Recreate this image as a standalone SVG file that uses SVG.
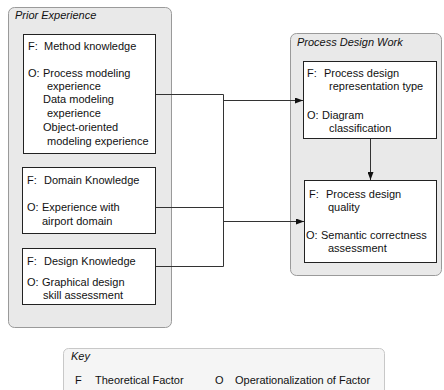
<svg xmlns="http://www.w3.org/2000/svg" width="444" height="390" viewBox="0 0 444 390">
  <defs>
    <marker id="arrow" markerWidth="8" markerHeight="6" refX="8" refY="3" orient="auto" markerUnits="userSpaceOnUse">
      <path d="M0,0 L8,3 L0,6 Z" fill="#111"/>
    </marker>
    <style>
      text { font-family: "Liberation Sans", Arial, sans-serif; font-size: 11px; fill: #111; }
      .title { font-style: italic; }
      .panel { fill: #e9e9e9; stroke: #9a9a9a; stroke-width: 1; }
      .key { fill: #f5f5f5; stroke: #c8c8c8; stroke-width: 1; }
      .box { fill: #ffffff; stroke: #222; stroke-width: 1; }
      .conn { fill: none; stroke: #333; stroke-width: 1; }
    </style>
  </defs>

  <rect width="444" height="390" fill="#ffffff"/>

  <!-- Container panels -->
  <g id="prior-experience">
    <rect class="panel" x="8.5" y="7.5" width="163" height="320" rx="6"/>
    <text class="title" x="15" y="19">Prior Experience</text>
  </g>
  <g id="process-design-work">
    <rect class="panel" x="290.5" y="33.5" width="151" height="242" rx="6"/>
    <text class="title" x="297" y="46">Process Design Work</text>
  </g>

  <!-- Connectors -->
  <g id="connectors">
    <path class="conn" d="M156,94.5 H223.5 V266.5 H156"/>
    <path class="conn" d="M156,207.5 H223.5"/>
    <path class="conn" d="M223.5,100.5 H303" marker-end="url(#arrow)"/>
    <path class="conn" d="M223.5,221.5 H304" marker-end="url(#arrow)"/>
    <path class="conn" d="M370.5,139 V180" marker-end="url(#arrow)"/>
  </g>

  <!-- Prior experience factors -->
  <g id="method-knowledge">
    <rect class="box" x="23.5" y="34.5" width="132" height="119"/>
    <text x="28" y="50">F:</text><text x="44" y="50">Method knowledge</text>
    <text x="28" y="77">O:</text><text x="43" y="77">Process modeling</text>
    <text x="47" y="90">experience</text>
    <text x="43" y="103">Data modeling</text>
    <text x="47" y="117">experience</text>
    <text x="43" y="131">Object-oriented</text>
    <text x="47" y="145">modeling experience</text>
  </g>

  <g id="domain-knowledge">
    <rect class="box" x="22.5" y="167.5" width="133" height="66"/>
    <text x="27" y="184">F:</text><text x="44" y="184">Domain Knowledge</text>
    <text x="27" y="211">O:</text><text x="42" y="211">Experience with</text>
    <text x="42" y="225">airport domain</text>
  </g>

  <g id="design-knowledge">
    <rect class="box" x="22.5" y="248.5" width="133" height="56"/>
    <text x="27" y="265">F:</text><text x="44" y="265">Design Knowledge</text>
    <text x="27" y="286">O:</text><text x="42" y="286">Graphical design</text>
    <text x="43" y="299">skill assessment</text>
  </g>

  <!-- Process design factors -->
  <g id="representation-type">
    <rect class="box" x="303.5" y="61.5" width="133" height="77"/>
    <text x="307" y="77">F:</text><text x="324" y="77">Process design</text>
    <text x="329" y="90">representation type</text>
    <text x="307" y="119">O:</text><text x="322" y="119">Diagram</text>
    <text x="329" y="132">classification</text>
  </g>

  <g id="design-quality">
    <rect class="box" x="304.5" y="180.5" width="132" height="82"/>
    <text x="309" y="198">F:</text><text x="326" y="198">Process design</text>
    <text x="328" y="211">quality</text>
    <text x="306" y="239">O:</text><text x="321" y="239">Semantic correctness</text>
    <text x="328" y="252">assessment</text>
  </g>

  <!-- Legend -->
  <g id="key">
    <rect class="key" x="63.5" y="348.5" width="321" height="60" rx="5"/>
    <text class="title" x="71" y="360">Key</text>
    <text x="75" y="384">F</text>
    <text x="95" y="384">Theoretical Factor</text>
    <text x="215" y="384">O</text>
    <text x="235" y="384">Operationalization of Factor</text>
  </g>
</svg>
